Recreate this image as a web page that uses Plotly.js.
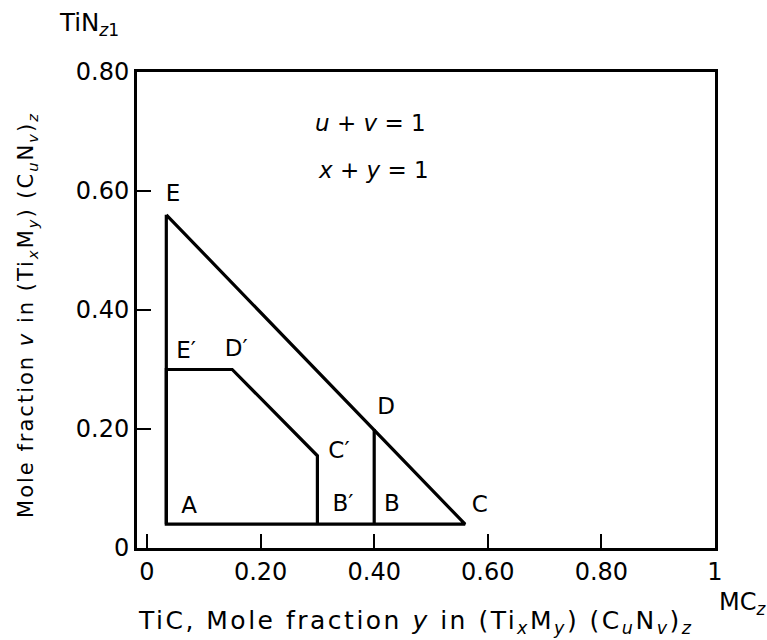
<!DOCTYPE html>
<html>
<head>
<meta charset="utf-8">
<script src="https://cdn.plot.ly/plotly-3.0.1.min.js"></script>
<style>
  html, body { margin: 0; padding: 0; background: #fff; }
  #chart { width: 767px; height: 640px; }
  /* loose tracking for the two axis captions (matched by their font size) */
  text.annotation-text[style*="font-size: 25px"] { letter-spacing: 2.5px; }
  text.annotation-text[style*="font-size: 21px"] { letter-spacing: 2px; }
</style>
</head>
<body>
<div id="chart"></div>
<script>
// Outer triangle E - A - C (boundary x + v = const)
const outerX = [0.034, 0.034, 0.56, 0.034];
const outerY = [0.56, 0.04, 0.04, 0.56];

// Vertical D - B line
const dbX = [0.40, 0.40];
const dbY = [0.20, 0.04];

// Inner region A - E' - D' - C' - B'
const innerX = [0.034, 0.034, 0.15, 0.30, 0.30];
const innerY = [0.04, 0.30, 0.30, 0.155, 0.04];

// Point labels
const pointNames = ['E', 'E′', 'D′', 'C′', 'B′', 'B', 'D', 'A', 'C'];
const pointLabelX = [0.046, 0.069, 0.157, 0.338, 0.345, 0.431, 0.421, 0.074, 0.586];
const pointLabelY = [0.593, 0.329, 0.333, 0.161, 0.072, 0.072, 0.235, 0.069, 0.071];

// Axis ticks
const xTickVals = [0, 0.2, 0.4, 0.6, 0.8, 1];
const xTickText = ['0', '0.20', '0.40', '0.60', '0.80', '1'];
const yTickVals = [0, 0.2, 0.4, 0.6, 0.8];
const yTickText = ['0', '0.20', '0.40', '0.60', '0.80'];

const FONT = 'DejaVu Sans, Verdana, sans-serif';
const lineStyle = { color: '#000', width: 3.2 };

const traces = [
  { x: outerX, y: outerY, mode: 'lines', line: lineStyle, hoverinfo: 'skip' },
  { x: dbX, y: dbY, mode: 'lines', line: lineStyle, hoverinfo: 'skip' },
  { x: innerX, y: innerY, mode: 'lines', line: lineStyle, hoverinfo: 'skip' },
  {
    x: pointLabelX, y: pointLabelY, text: pointNames, mode: 'text',
    textposition: 'middle center',
    textfont: { family: FONT, size: 23, color: '#000' },
    hoverinfo: 'skip'
  }
];

const axisCommon = {
  showgrid: false,
  zeroline: false,
  showline: true,
  mirror: true,
  linecolor: '#000',
  linewidth: 3,
  ticks: 'inside',
  ticklen: 14,
  tickwidth: 2,
  tickcolor: '#000',
  tickfont: { family: FONT, size: 24, color: '#000' },
  tickmode: 'array'
};

const layout = {
  width: 767,
  height: 640,
  paper_bgcolor: '#fff',
  plot_bgcolor: '#fff',
  showlegend: false,
  margin: { l: 137, r: 52, t: 72, b: 92 },
  xaxis: Object.assign({}, axisCommon, {
    range: [-0.0176, 1],
    tickvals: xTickVals,
    ticktext: xTickText,
    ticklabelstandoff: 0
  }),
  yaxis: Object.assign({}, axisCommon, {
    range: [0, 0.8],
    tickvals: yTickVals,
    ticktext: yTickText,
    ticklabelstandoff: 0
  }),
  annotations: [
    {
      xref: 'paper', yref: 'paper', x: 0.481, y: -0.155,
      xanchor: 'center', yanchor: 'middle', showarrow: false,
      text: 'TiC, Mole fraction <i>y</i> in (Ti<sub><i>x</i></sub>M<sub><i>y</i></sub>) (C<sub><i>u</i></sub>N<sub><i>v</i></sub>)<sub><i>z</i></sub>',
      font: { family: FONT, size: 25, color: '#000' }
    },
    {
      xref: 'paper', yref: 'paper', x: -0.190, y: 0.49,
      xanchor: 'center', yanchor: 'middle', showarrow: false, textangle: -90,
      text: 'Mole fraction <i>v</i> in (Ti<sub><i>x</i></sub>M<sub><i>y</i></sub>) (C<sub><i>u</i></sub>N<sub><i>v</i></sub>)<sub><i>z</i></sub>',
      font: { family: FONT, size: 21, color: '#000' }
    },
    {
      xref: 'paper', yref: 'paper', x: 1.003, y: -0.116,
      xanchor: 'left', yanchor: 'middle', showarrow: false,
      text: 'MC<sub><i>z</i></sub>',
      font: { family: FONT, size: 24, color: '#000' }
    },
    {
      xref: 'paper', yref: 'paper', x: -0.138, y: 1.101,
      xanchor: 'left', yanchor: 'middle', showarrow: false,
      text: 'TiN<sub><i>z</i>1</sub>',
      font: { family: FONT, size: 24.5, color: '#000' }
    },
    {
      xref: 'x', yref: 'y', x: 0.394, y: 0.714,
      xanchor: 'center', yanchor: 'middle', showarrow: false,
      text: '<i>u</i> + <i>v</i> = 1',
      font: { family: FONT, size: 23, color: '#000' }
    },
    {
      xref: 'x', yref: 'y', x: 0.398, y: 0.635,
      xanchor: 'center', yanchor: 'middle', showarrow: false,
      text: '<i>x</i> + <i>y</i> = 1',
      font: { family: FONT, size: 23, color: '#000' }
    }
  ]
};

Plotly.newPlot('chart', traces, layout, { staticPlot: true, displayModeBar: false });
</script>
</body>
</html>
